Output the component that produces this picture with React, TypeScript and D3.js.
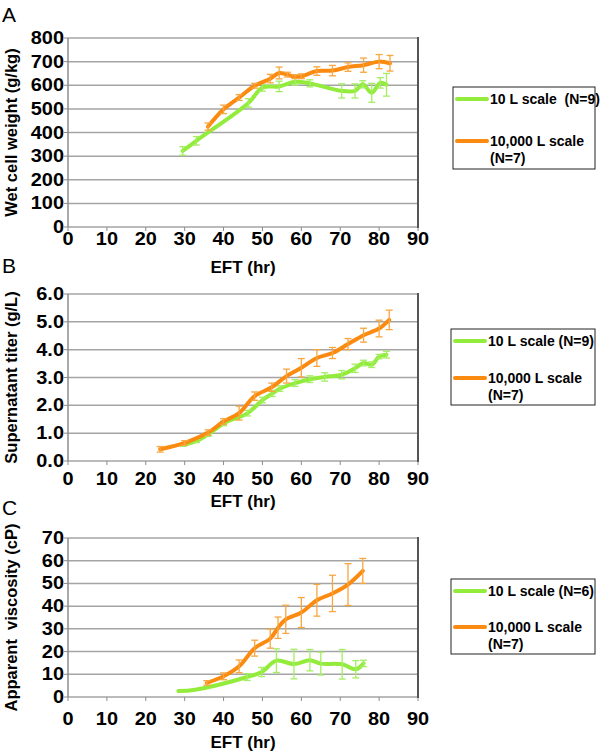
import React from 'react';
import * as d3 from 'd3';

const xTicks = [0, 10, 20, 30, 40, 50, 60, 70, 80, 90];

// Panel A: Wet cell weight (g/kg)
const aTicks = [0, 100, 200, 300, 400, 500, 600, 700, 800];
const aSmallT = [29.5, 33, 46.4, 50, 54.3, 58.4, 62.2, 70.4, 73.8, 75.8, 78.1, 80.3, 81.9];
const aSmallV = [322, 365, 525, 590, 595, 615, 608, 576, 576, 604, 568, 610, 602];
const aSmallE = [18, 18, 18, 15, 22, 15, 15, 30, 30, 15, 40, 22, 48];
const aLargeT = [36, 40, 44, 48, 52, 54.3, 56.4, 58.4, 60, 64, 68, 72, 76, 80, 82.8];
const aLargeV = [425, 498, 548, 598, 628, 652, 645, 636, 638, 660, 662, 677, 685, 700, 693];
const aLargeE = [15, 18, 12, 10, 18, 25, 10, 8, 10, 18, 22, 18, 30, 30, 33];

// Panel B: Supernatant titer (g/L)
const bTicks = [0, 1, 2, 3, 4, 5, 6];
const bSmallT = [29.7, 33, 36, 40, 46.2, 50, 52.5, 54.5, 58.4, 62.2, 66, 70.4, 73.8, 76, 78.1, 80, 81.9];
const bSmallV = [0.58, 0.72, 0.95, 1.35, 1.72, 2.19, 2.42, 2.6, 2.8, 2.94, 3.02, 3.1, 3.33, 3.52, 3.46, 3.75, 3.82];
const bSmallE = [0.05, 0.06, 0.06, 0.08, 0.1, 0.1, 0.1, 0.1, 0.12, 0.12, 0.15, 0.15, 0.15, 0.1, 0.1, 0.08, 0.12];
const bLargeT = [23.7, 30, 36, 40, 44, 48, 52.4, 56.2, 60, 64, 68, 72, 76, 80, 82.6];
const bLargeV = [0.42, 0.65, 1.02, 1.42, 1.72, 2.33, 2.65, 3.05, 3.35, 3.7, 3.88, 4.2, 4.52, 4.76, 5.07];
const bLargeE = [0.1, 0.08, 0.1, 0.1, 0.25, 0.15, 0.15, 0.25, 0.33, 0.3, 0.2, 0.2, 0.25, 0.3, 0.35];

// Panel C: Apparent viscosity (cP)
const cTicks = [0, 10, 20, 30, 40, 50, 60, 70];
const cSmallT = [28.4, 32.7, 46.1, 49.8, 53.6, 58.1, 62.2, 65, 70.5, 74, 76];
const cSmallV = [2.6, 3.2, 8.8, 11, 16, 14.5, 16.2, 14.7, 14.4, 12.2, 14.8];
const cSmallE = [0, 0, 1.5, 2, 5.2, 6.5, 4.7, 5, 6.5, 3.8, 1.4];
const cLargeT = [35.7, 40, 44, 48, 52, 54, 56, 60, 64, 68, 72, 75.8];
const cLargeV = [6.2, 9.1, 13.5, 21.5, 25.7, 30.5, 34.2, 37.2, 42.6, 45.6, 49.5, 55.5];
const cLargeE = [1, 1.5, 2.8, 3.5, 4.2, 4.7, 6.2, 6.6, 7, 8, 9.2, 5.5];

const GREEN = '#93ec3c';
const GREEN_ERR = '#a3ee62';
const ORANGE = '#fb8a10';
const ORANGE_ERR = '#f7a640';
const FONT = '"Liberation Sans", Arial, Helvetica, sans-serif';

type Series = { t: number[]; v: number[]; e: number[]; color: string; errColor: string };

type PanelCfg = {
  letter: string;
  letterY: number;
  top: number;
  bottom: number;
  yMax: number;
  ticks: number[];
  fmt: (v: number) => string;
  yLabel: string;
  tickBaseline: number;
  titleBaseline: number;
  series: Series[];
  legendTop: number;
  legendBottom: number;
  legendLeft: number;
  legendSmall: string;
  legendRows: number[];
};

const panels: PanelCfg[] = [
  {
    letter: 'A', letterY: 22, top: 38, bottom: 227, yMax: 800, ticks: aTicks,
    fmt: (v) => String(v), yLabel: 'Wet cell weight (g/kg)',
    tickBaseline: 245, titleBaseline: 273,
    series: [
      { t: aSmallT, v: aSmallV, e: aSmallE, color: GREEN, errColor: GREEN_ERR },
      { t: aLargeT, v: aLargeV, e: aLargeE, color: ORANGE, errColor: ORANGE_ERR },
    ],
    legendTop: 87, legendBottom: 169, legendLeft: 453,
    legendSmall: '10 L scale  (N=9)', legendRows: [99, 141],
  },
  {
    letter: 'B', letterY: 273, top: 294, bottom: 461, yMax: 6, ticks: bTicks,
    fmt: (v) => v.toFixed(1), yLabel: 'Supernatant titer (g/L)',
    tickBaseline: 485, titleBaseline: 507,
    series: [
      { t: bSmallT, v: bSmallV, e: bSmallE, color: GREEN, errColor: GREEN_ERR },
      { t: bLargeT, v: bLargeV, e: bLargeE, color: ORANGE, errColor: ORANGE_ERR },
    ],
    legendTop: 329, legendBottom: 405, legendLeft: 451,
    legendSmall: '10 L scale (N=9)', legendRows: [341, 378],
  },
  {
    letter: 'C', letterY: 515, top: 538, bottom: 697, yMax: 70, ticks: cTicks,
    fmt: (v) => String(v), yLabel: 'Apparent  viscosity (cP)',
    tickBaseline: 725, titleBaseline: 748,
    series: [
      { t: cSmallT, v: cSmallV, e: cSmallE, color: GREEN, errColor: GREEN_ERR },
      { t: cLargeT, v: cLargeV, e: cLargeE, color: ORANGE, errColor: ORANGE_ERR },
    ],
    legendTop: 579, legendBottom: 654, legendLeft: 451,
    legendSmall: '10 L scale (N=6)', legendRows: [591, 627],
  },
];

const LEFT = 68;
const RIGHT = 418;
const TICK_SX = 1.14;

function Panel({ cfg }: { cfg: PanelCfg }) {
  const x = d3.scaleLinear().domain([0, 90]).range([LEFT, RIGHT]);
  const y = d3.scaleLinear().domain([0, cfg.yMax]).range([cfg.bottom, cfg.top]);
  const line = d3
    .line<[number, number]>()
    .x((d) => x(d[0]))
    .y((d) => y(d[1]))
    .curve(d3.curveCatmullRom.alpha(0.5));
  const midY = (cfg.top + cfg.bottom) / 2;
  const midX = (LEFT + RIGHT) / 2;
  const lx1 = cfg.legendLeft + 4;
  const lx2 = lx1 + 30;
  const tx = lx2 + 3;
  return (
    <g>
      <text x={2} y={cfg.letterY} fontFamily={FONT} fontSize={21}>{cfg.letter}</text>
      {cfg.ticks.map((t) => (
        <line key={'g' + t} x1={LEFT} x2={RIGHT} y1={y(t)} y2={y(t)} stroke="#a4a4a4" strokeWidth={1.5} />
      ))}
      {cfg.ticks.map((t) => (
        <g key={'yt' + t}>
          <line x1={LEFT - 4} x2={LEFT} y1={y(t)} y2={y(t)} stroke="#8c8c8c" strokeWidth={1} />
          <text
            transform={`translate(${LEFT - 4},${y(t) + 6}) scale(${TICK_SX},1)`}
            textAnchor="end"
            fontFamily={FONT}
            fontWeight="bold"
            fontSize={17.5}
          >
            {cfg.fmt(t)}
          </text>
        </g>
      ))}
      {xTicks.map((t) => (
        <g key={'xt' + t}>
          <line x1={x(t)} x2={x(t)} y1={cfg.bottom} y2={cfg.bottom + 4} stroke="#8c8c8c" strokeWidth={1} />
          <text
            transform={`translate(${x(t)},${cfg.tickBaseline}) scale(${TICK_SX},1)`}
            textAnchor="middle"
            fontFamily={FONT}
            fontWeight="bold"
            fontSize={17.5}
          >
            {t}
          </text>
        </g>
      ))}
      <line x1={LEFT} x2={LEFT} y1={cfg.top} y2={cfg.bottom} stroke="#8c8c8c" strokeWidth={1.5} />
      <line x1={RIGHT} x2={RIGHT} y1={cfg.top - 1} y2={cfg.bottom + 1} stroke="#555" strokeWidth={2} />
      <text x={midX} y={cfg.titleBaseline} textAnchor="middle" fontFamily={FONT} fontWeight="bold" fontSize={17}>
        EFT (hr)
      </text>
      <text
        transform={`translate(17,${midY}) rotate(-90)`}
        textAnchor="middle"
        fontFamily={FONT}
        fontWeight="bold"
        fontSize={16.5}
        style={{ whiteSpace: 'pre' }}
      >
        {cfg.yLabel}
      </text>
      {cfg.series.map((s, si) => {
        const pts: [number, number][] = s.t.map((t, i) => [t, s.v[i]]);
        return (
          <g key={'s' + si}>
            <path d={line(pts) || ''} fill="none" stroke={s.color} strokeWidth={4} strokeLinecap="round" strokeLinejoin="round" />
            {s.t.map((t, i) =>
              s.e[i] > 0 ? (
                <g key={'e' + i} stroke={s.errColor} strokeWidth={1.3}>
                  <line x1={x(t)} x2={x(t)} y1={y(s.v[i] - s.e[i])} y2={y(s.v[i] + s.e[i])} />
                  <line x1={x(t) - 3.5} x2={x(t) + 3.5} y1={y(s.v[i] - s.e[i])} y2={y(s.v[i] - s.e[i])} />
                  <line x1={x(t) - 3.5} x2={x(t) + 3.5} y1={y(s.v[i] + s.e[i])} y2={y(s.v[i] + s.e[i])} />
                </g>
              ) : null
            )}
          </g>
        );
      })}
      <rect
        x={cfg.legendLeft}
        y={cfg.legendTop}
        width={595 - cfg.legendLeft}
        height={cfg.legendBottom - cfg.legendTop}
        fill="#fff"
        stroke="#222"
        strokeWidth={1}
      />
      <line x1={lx1} x2={lx2} y1={cfg.legendRows[0]} y2={cfg.legendRows[0]} stroke={GREEN} strokeWidth={4} strokeLinecap="round" />
      <text x={tx} y={cfg.legendRows[0] + 5} fontFamily={FONT} fontWeight="bold" fontSize={14} style={{ whiteSpace: 'pre' }}>
        {cfg.legendSmall}
      </text>
      <line x1={lx1} x2={lx2} y1={cfg.legendRows[1]} y2={cfg.legendRows[1]} stroke={ORANGE} strokeWidth={4} strokeLinecap="round" />
      <text x={tx} y={cfg.legendRows[1] + 5} fontFamily={FONT} fontWeight="bold" fontSize={14}>
        10,000 L scale
      </text>
      <text x={tx} y={cfg.legendRows[1] + 21.5} fontFamily={FONT} fontWeight="bold" fontSize={14}>
        (N=7)
      </text>
    </g>
  );
}

export default function App() {
  return (
    <svg
      width={600}
      height={752}
      viewBox="0 0 600 752"
      style={{ position: 'absolute', left: 0, top: 0, background: '#fff' }}
    >
      <rect x={0} y={0} width={600} height={752} fill="#fff" />
      {panels.map((p) => (
        <Panel key={p.letter} cfg={p} />
      ))}
    </svg>
  );
}
